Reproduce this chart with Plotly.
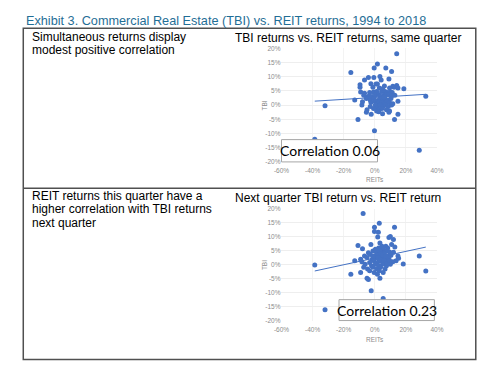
import plotly.graph_objects as go

W, H = 500, 383
OFF = 8  # page body margin of the viewer; positions below are in screen pixels

# ---------------- data (percent) ----------------
# Panel 1: same-quarter REIT return (x) vs TBI return (y)
reit_same = [14.1, 1.7, -0.4, 7.1, 10.8, -15.4,
             -4.1, -0.6, 3.3, 9.1, -6.6, 4.1,
             -9.5, -2.5, 0.8, 1.7, 6.2, 11.6, 14.1,
             -9.5, -1.2, 2.9, 5.0, 9.5, 12.4, 14.9, 18.7,
             -9.1, -6.6, -3.3, -0.8, 1.2, 4.4, 6.6, 8.3, 10.0, 11.2,
             -7.1, -5.0, -3.7, -1.7, 0.4, 2.5, 3.3, 5.8, 7.5, 9.1, 10.8, 12.9,
             -12.9, -5.4, -2.9, -0.8, 1.7, 3.7, 5.4, 6.6, 8.7, 10.4,
             -7.9, -2.5, 0.0, 1.2, 2.9, 4.6, 6.2, 7.5, 9.5, 11.6, 14.9,
             -8.3, -2.9, 0.4, 1.7, 3.3, 5.4, 7.1, 8.7, 10.8,
             -5.0, -0.8, 1.2, 2.9, 4.6, 7.5, 9.5,
             -5.4, 2.5, 5.0, 9.1,
             -2.3, 14.9, -10.8, 12.7, -0.2,
             -32.0, -38.6, 32.8, 28.6, 6.0]
tbi_same = [18.1, 14.5, 13.1, 13.1, 11.8, 11.5,
            9.7, 9.7, 10.1, 9.2, 8.8, 8.8,
            7.2, 7.5, 7.4, 7.4, 6.7, 6.6, 6.9,
            6.3, 6.3, 6.0, 5.8, 6.0, 6.3, 6.0, 5.8,
            4.6, 4.2, 4.4, 4.6, 4.8, 4.8, 4.8, 4.4, 4.6, 4.4,
            3.5, 2.8, 3.2, 3.0, 3.5, 3.7, 3.2, 3.5, 3.7, 3.7, 3.2, 3.5,
            1.8, 2.3, 1.8, 2.3, 1.6, 2.3, 1.8, 2.3, 1.8, 2.3,
            1.2, 0.9, 1.4, 0.5, 1.2, 0.9, 0.5, 1.2, 0.9, 0.5, 1.4,
            0.0, -0.5, 0.0, -0.9, 0.0, -0.5, 0.0, -0.5, 0.0,
            -1.6, -1.2, -2.1, -1.6, -1.2, -1.6, -2.1,
            -2.5, -2.3, -3.0, -2.5,
            -3.2, -3.2, -5.1, -5.1, -9.0,
            -0.2, -12.0, 3.1, -15.9, 2.8]

# Panel 2: REIT return this quarter (x) vs TBI return next quarter (y)
reit_next = [-7.5, 2.9, -0.2, 12.7, -38.6, -32.0,
             -0.2, 2.3,
             1.9, 9.1, 10.0, 12.0,
             -10.8, -2.5, 3.3, 4.6, 7.1, 10.8,
             -7.9, 0.4, 2.5, 5.4, 8.3, 12.9,
             -4.1, -1.2, 1.2, 3.3, 5.8, 7.5, 9.5,
             -6.6, -2.9, 0.0, 2.1, 4.1, 6.2, 8.3, 10.4, 14.9, 28.6,
             -9.1, -5.0, -1.7, 0.8, 2.9, 4.6, 7.1, 9.1, 15.3,
             -12.9, -8.3, -3.3, -0.6, 1.7, 3.7, 5.8, 8.7, 11.6, 13.7,
             -6.2, -2.1, 0.4, 2.5, 5.0, 7.5, 10.0, 18.3,
             -7.1, -4.6, -1.2, 1.2, 3.7, 6.6,
             -9.1, -3.3, -0.4, 2.9, 5.4, 32.8,
             -15.4, 1.7, -5.0, -4.1, 3.3, -2.3, 5.4,
             1.0, 3.0, 4.0, 6.0, 5.0, 7.0, 2.0, 3.5, 6.0, 8.0, 9.5, -1.0, 12.0]
tbi_next = [18.3, 14.8, 13.4, 13.4, -0.1, -16.0,
            11.9, 11.6,
            9.9, 9.7, 10.1, 9.0,
            6.9, 7.2, 7.8, 6.6, 6.6, 7.2,
            5.7, 5.5, 6.0, 5.5, 6.0, 6.3,
            4.3, 4.9, 4.3, 4.9, 4.3, 4.9, 4.6,
            3.1, 3.7, 3.1, 3.7, 3.1, 3.7, 3.1, 3.4, 3.1, 3.1,
            2.0, 2.6, 2.0, 2.6, 2.0, 2.6, 2.0, 2.6, 2.3,
            1.4, 1.1, 0.8, 1.4, 0.8, 1.4, 0.8, 1.1, 1.1, 1.4,
            0.2, -0.3, 0.2, -0.3, 0.2, -0.3, 0.2, 0.3,
            -0.9, -1.5, -0.9, -1.5, -0.9, -1.5,
            -2.7, -2.1, -2.7, -2.1, -2.7, -2.2,
            -3.4, -3.4, -4.8, -5.2, -4.8, -9.2, -12.0,
            5.0, 5.2, 4.0, 4.0, 3.5, 3.0, 2.5, 1.8, 1.5, 0.5, 1.5, 3.0, 4.5]

# linear trend lines (end points)
trend_same_x = [-38.6, 32.8]
trend_same_y = [1.4, 3.8]
trend_next_x = [-38.6, 32.8]
trend_next_y = [-2.2, 6.3]

x_ticks = [-60, -40, -20, 0, 20, 40]
x_tick_labels = ["-60%", "-40%", "-20%", "0%", "20%", "40%"]
y_ticks = [-20, -15, -10, -5, 0, 5, 10, 15, 20]
y_tick_labels = ["-20%", "-15%", "-10%", "-5%", "0%", "5%", "10%", "15%", "20%"]

title_text = "Exhibit 3. Commercial Real Estate (TBI) vs. REIT returns, 1994 to 2018"
panel_titles = ["TBI returns vs. REIT returns, same quarter",
                "Next quarter TBI return vs. REIT return"]
side_notes = [["Simultaneous returns display", "modest positive correlation"],
              ["REIT returns this quarter have a", "higher correlation with TBI returns",
               "next quarter"]]
corr_labels = ["Correlation 0.06", "Correlation 0.23"]

# ---------------- layout helpers (screen px -> paper) ----------------
def px(x):
    return (x - OFF) / W

def py(y):
    return 1 - (y - OFF) / H

BLUE = "#4472C4"
GRAY = "#8c8c8c"
TXT_FONT = "Liberation Sans, Arial, sans-serif"

fig = go.Figure()
fig.add_trace(go.Scatter(x=reit_same, y=tbi_same, mode="markers",
                         marker=dict(color=BLUE, size=5), xaxis="x", yaxis="y"))
fig.add_trace(go.Scatter(x=trend_same_x, y=trend_same_y, mode="lines",
                         line=dict(color=BLUE, width=1), xaxis="x", yaxis="y"))
fig.add_trace(go.Scatter(x=reit_next, y=tbi_next, mode="markers",
                         marker=dict(color=BLUE, size=5), xaxis="x2", yaxis="y2"))
fig.add_trace(go.Scatter(x=trend_next_x, y=trend_next_y, mode="lines",
                         line=dict(color=BLUE, width=1), xaxis="x2", yaxis="y2"))

xdom = [px(281.7), px(442)]
ydom1 = [py(160.7), py(45)]
ydom2 = [py(322.7), py(208.3)]

def xaxis_cfg(anchor):
    return dict(domain=xdom, range=[-60, 40], tickvals=x_ticks, ticktext=x_tick_labels,
                tickfont=dict(size=6.5, color=GRAY, family=TXT_FONT),
                showgrid=True, gridcolor="#f3f3f3", zeroline=False, showline=False,
                ticks="", ticklabelstandoff=4, anchor=anchor, fixedrange=True)

def yaxis_cfg(anchor, dom):
    return dict(domain=dom, range=[-20, 20], tickvals=y_ticks, ticktext=y_tick_labels,
                tickfont=dict(size=6.5, color=GRAY, family=TXT_FONT),
                showgrid=True, gridcolor="#eeeeee", zeroline=False, showline=False,
                ticks="", anchor=anchor, fixedrange=True)

annotations = []
annotations.append(dict(x=px(16), y=py(17), xref="paper", yref="paper", text=title_text,
                        showarrow=False, xanchor="left", yanchor="middle",
                        font=dict(size=12.7, color="#1f6e96", family=TXT_FONT)))
for t, yc in zip(panel_titles, [34, 197]):
    annotations.append(dict(x=px(232), y=py(yc), xref="paper", yref="paper", text=t,
                            showarrow=False, xanchor="left", yanchor="middle",
                            font=dict(size=12, color="#000000", family=TXT_FONT)))
for lines, y0 in zip(side_notes, [33, 195]):
    for i, ln in enumerate(lines):
        annotations.append(dict(x=px(22), y=py(y0 + 14 * i), xref="paper", yref="paper",
                                text=ln, showarrow=False, xanchor="left", yanchor="middle",
                                font=dict(size=12, color="#000000", family=TXT_FONT)))
for yc in [103, 265.5]:
    annotations.append(dict(x=px(264), y=py(yc), xref="paper", yref="paper", text="TBI",
                            showarrow=False, textangle=-90, xanchor="center", yanchor="middle",
                            font=dict(size=6.5, color=GRAY, family=TXT_FONT)))
for yc in [179, 341.7]:
    annotations.append(dict(x=px(378), y=py(yc), xref="paper", yref="paper", text="REITs",
                            showarrow=False, xanchor="center", yanchor="middle",
                            font=dict(size=6.5, color=GRAY, family=TXT_FONT)))

boxes = [(281.7, 138, 380.7, 160.7), (341, 301, 439.3, 322.3)]
shapes = []
for (x0, y0, x1, y1), lab in zip(boxes, corr_labels):
    shapes.append(dict(type="rect", xref="paper", yref="paper",
                       x0=px(x0), x1=px(x1), y0=py(y1), y1=py(y0),
                       line=dict(color="#a6a6a6", width=1), fillcolor="white", layer="above"))
    annotations.append(dict(x=px((x0 + x1) / 2), y=py((y0 + y1) / 2), xref="paper", yref="paper",
                            text=lab, showarrow=False, xanchor="center", yanchor="middle",
                            font=dict(size=14, color="#000000", family="Lato, Carlito, sans-serif")))

shapes.append(dict(type="rect", xref="paper", yref="paper",
                   x0=px(15.5), x1=px(482), y0=py(362), y1=py(24.5),
                   line=dict(color="#505050", width=1.5)))
shapes.append(dict(type="line", xref="paper", yref="paper",
                   x0=px(15.5), x1=px(482), y0=py(187.5), y1=py(187.5),
                   line=dict(color="#505050", width=1.5)))

fig.update_layout(
    width=W, height=H, margin=dict(l=0, r=0, t=0, b=0),
    paper_bgcolor="white", plot_bgcolor="white", showlegend=False,
    xaxis=xaxis_cfg("y"), yaxis=yaxis_cfg("x", ydom1),
    xaxis2=xaxis_cfg("y2"), yaxis2=yaxis_cfg("x2", ydom2),
    annotations=annotations, shapes=shapes,
)

fig.write_html("out.html")
